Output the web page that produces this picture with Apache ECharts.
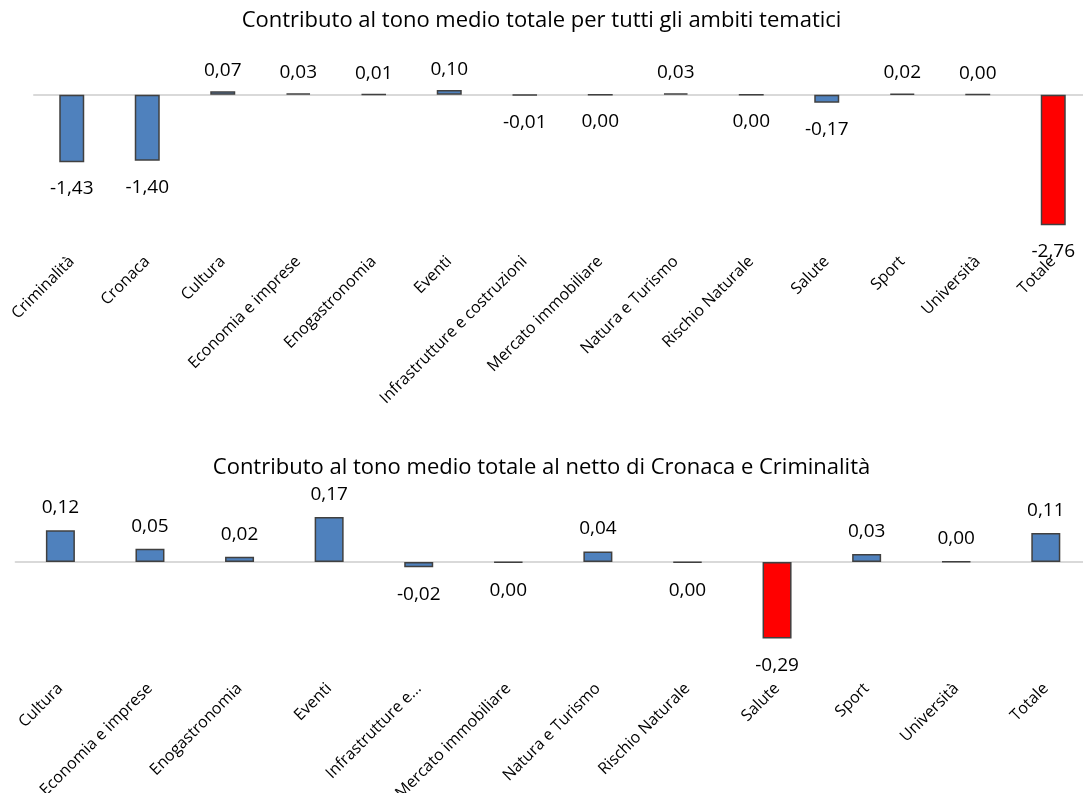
<!DOCTYPE html>
<html>
<head>
<meta charset="utf-8">
<script src="https://cdn.jsdelivr.net/npm/echarts@6/dist/echarts.min.js"></script>
<style>
  html, body { margin: 0; padding: 0; background: #ffffff; }
  #chart { width: 1083px; height: 793px; }
</style>
</head>
<body>
<div id="chart"></div>
<script>
// Upper panel: every thematic area plus the overall total
const titleTop = 'Contributo al tono medio totale per tutti gli ambiti tematici';
const categoriesTop = ['Criminalità', 'Cronaca', 'Cultura', 'Economia e imprese', 'Enogastronomia', 'Eventi',
  'Infrastrutture e costruzioni', 'Mercato immobiliare', 'Natura e Turismo', 'Rischio Naturale',
  'Salute', 'Sport', 'Università', 'Totale'];
const valuesTop = [-1.43, -1.40, 0.07, 0.03, 0.01, 0.10, -0.01, -0.002, 0.03, -0.002, -0.17, 0.02, 0.002, -2.76];
const highlightTop = 'Totale';

// Lower panel: same contributions without Cronaca and Criminalità
const titleBottom = 'Contributo al tono medio totale al netto di Cronaca e Criminalità';
const categoriesBottom = ['Cultura', 'Economia e imprese', 'Enogastronomia', 'Eventi', 'Infrastrutture e...',
  'Mercato immobiliare', 'Natura e Turismo', 'Rischio Naturale', 'Salute', 'Sport', 'Università', 'Totale'];
const valuesBottom = [0.12, 0.05, 0.02, 0.17, -0.02, -0.002, 0.04, -0.002, -0.29, 0.03, 0.002, 0.11];
const highlightBottom = 'Salute';

const FONT = '"Open Sans", sans-serif';
const BLUE = '#4F81BD';
const RED = '#FF0000';

// Italian decimal comma, two decimals, no "-0,00"
function fmt(v) {
  let s = v.toFixed(2);
  if (s === '-0.00') s = '0.00';
  return s.replace('.', ',');
}

function buildData(cats, vals, highlight, distUp, distDown) {
  return vals.map((v, i) => ({
    value: v,
    itemStyle: { color: cats[i] === highlight ? RED : BLUE },
    label: {
      position: v < 0 ? 'bottom' : 'top',
      distance: v < 0 ? distDown : distUp
    }
  }));
}

const chart = echarts.init(document.getElementById('chart'), null, { renderer: 'canvas' });

const barLabel = {
  show: true,
  formatter: p => fmt(p.value),
  fontFamily: FONT,
  fontSize: 19,
  color: '#000000'
};

const catLabel = (margin) => ({
  rotate: 45,
  margin: margin,
  interval: 0,
  fontFamily: FONT,
  fontSize: 16,
  color: '#000000'
});

const titleStyle = { fontFamily: FONT, fontSize: 22, fontWeight: 'normal', color: '#000000' };

chart.setOption({
  animation: false,
  title: [
    { text: titleTop, left: 'center', top: 5, textStyle: titleStyle },
    { text: titleBottom, left: 'center', top: 452, textStyle: titleStyle }
  ],
  grid: [
    { left: 34, width: 1057, top: 71, height: 175, outerBoundsMode: 'none', containLabel: false },
    { left: 15.6, width: 1075, top: 496, height: 182, outerBoundsMode: 'none', containLabel: false }
  ],
  xAxis: [
    // labelled category axes sit at the bottom of each plot area
    { type: 'category', gridIndex: 0, data: categoriesTop,
      axisLine: { show: false, onZero: false }, axisTick: { show: false },
      axisLabel: catLabel(13) },
    { type: 'category', gridIndex: 1, data: categoriesBottom,
      axisLine: { show: false, onZero: false }, axisTick: { show: false },
      axisLabel: catLabel(8) },
    // baseline axes drawn through zero
    { type: 'category', gridIndex: 0, data: categoriesTop,
      axisLine: { show: true, onZero: true, lineStyle: { color: '#D9D9D9', width: 2 } },
      axisTick: { show: false }, axisLabel: { show: false } },
    { type: 'category', gridIndex: 1, data: categoriesBottom,
      axisLine: { show: true, onZero: true, lineStyle: { color: '#D9D9D9', width: 2 } },
      axisTick: { show: false }, axisLabel: { show: false } }
  ],
  yAxis: [
    { type: 'value', gridIndex: 0, min: -3.2, max: 0.5, show: false, splitLine: { show: false } },
    { type: 'value', gridIndex: 1, min: -0.44, max: 0.25, show: false, splitLine: { show: false } }
  ],
  series: [
    { type: 'bar', xAxisIndex: 0, yAxisIndex: 0, barWidth: 25,
      data: buildData(categoriesTop, valuesTop, highlightTop, 11, 17),
      itemStyle: { borderColor: '#404040', borderWidth: 1.5 },
      label: barLabel },
    { type: 'bar', xAxisIndex: 1, yAxisIndex: 1, barWidth: 29,
      data: buildData(categoriesBottom, valuesBottom, highlightBottom, 13, 18),
      itemStyle: { borderColor: '#404040', borderWidth: 1.5 },
      label: barLabel }
  ]
});
</script>
</body>
</html>
